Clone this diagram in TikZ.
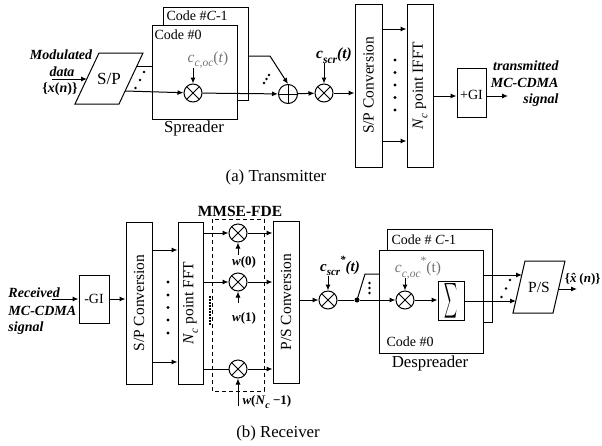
\documentclass[tikz,border=0pt]{standalone}
\usepackage{fontspec}
\usepackage{graphicx}
\setmainfont{Liberation Serif}
\usetikzlibrary{arrows.meta,calc}
\newcommand\fsz[1]{\fontsize{#1}{#1}\selectfont}
\newcommand\sbs[2][10]{\raisebox{-0.3em}{\fsz{#1}#2}}
\newcommand\sps[2][10]{\raisebox{0.5em}{\fsz{#1}#2}}
\begin{document}
\begin{tikzpicture}[x=1pt,y=-1pt,line width=1pt,>={Latex[length=6pt,width=5pt]},
  box/.style={draw,fill=white,inner sep=0pt},
  mult/.style={draw,circle,fill=white,minimum size=18pt,inner sep=0pt,
    path picture={\draw[line width=0.8pt] (path picture bounding box.north west) -- (path picture bounding box.south east)
      (path picture bounding box.north east) -- (path picture bounding box.south west);}},
  adder/.style={draw,circle,fill=white,minimum size=19pt,inner sep=0pt,
    path picture={\draw[line width=0.8pt] (path picture bounding box.north) -- (path picture bounding box.south)
      (path picture bounding box.east) -- (path picture bounding box.west);}},
  dotm/.style={circle,fill,inner sep=0pt,minimum size=2.8pt},
  bilbl/.style={font=\fsz{14}\bfseries\itshape,inner sep=0pt},
  codelbl/.style={font=\fsz{14},inner sep=0pt,anchor=west},
  vtext/.style={rotate=90,font=\fsz{15.5},inner sep=0pt},
  captxt/.style={font=\fsz{16.8},inner sep=0pt},
  graylbl/.style={font=\fsz{15.5},text=black!55,inner sep=0pt}]
\useasboundingbox (0,0) rectangle (602,445);

% ================= Transmitter =================
\node[bilbl] (mod1) at (61,55) {Modulated};
\node[bilbl] (mod2) at (62,72) {data};
\node[font=\fsz{14}\bfseries,inner sep=0pt] (mod3) at (60,89) {\{\textit{x}(\textit{n})\}};
\coordinate (in1) at (52,79);
\coordinate (spi) at (87,79);
\draw (75,104) -- (99,53) -- (143,53) -- (119,104) -- cycle;
\node[font=\fsz{17},inner sep=0pt] (sp) at (109,79) {S/P};
\draw[->] (in1) -- (spi);
\coordinate (spo1) at (137,66);
\coordinate (spo2) at (125,91);

\node[box,minimum width=85pt,minimum height=93pt] (cb1) at (205.5,53.5) {};
\node[box,minimum width=85pt,minimum height=94pt] (cf1) at (194.5,72) {};
\node[codelbl] (cl1) at (166,16) {Code \#\textit{C}-1};
\node[codelbl] (cl0) at (154,35) {Code \#0};
\node[mult] (m1) at (193,93) {};
\node[graylbl] (cc1) at (208,60) {\textit{c}\sbs[11.5]{\textit{c,oc}}(\textit{t})};
\coordinate (cc1a) at (193,68);
\draw[->] (cc1a) -- (m1);
\coordinate (cf1in) at (152,66);
\draw (spo1) -- (cf1in);
\draw[->] (spo2) -- (m1);
\foreach \p in {(144,72),(140,80),(135.5,88)} \node[dotm] at \p {};

\node[adder] (add) at (288,94) {};
\draw[->] (m1) -- (add);
\coordinate (cb1o) at (248,56);
\draw[->] (cb1o) -- (270,56) -- (add.north);
\foreach \p in {(269,75),(266.5,79),(264,83)} \node[dotm] at \p {};
\node[captxt] (spr) at (194,128) {Spreader};

\node[mult] (m2) at (324,93) {};
\draw[->] (add) -- (m2);
\node[font=\fsz{15.5}\bfseries\itshape,inner sep=0pt] (cscr) at (334,56) {\textit{c}\sbs[11.5]{\textit{scr}}(\textit{t})};
\coordinate (cscra) at (324,63);
\draw[->] (cscra) -- (m2);

\node[box,minimum width=27pt,minimum height=163pt] (spc) at (368.5,85.5) {};
\node[vtext] at (spc) {S/P Conversion};
\node[box,minimum width=26pt,minimum height=163pt] (ifft) at (420,85.5) {};
\node[vtext] at (ifft) {\textit{N}\sbs[11]{\textit{c}} point IFFT};
\draw[->] (m2) -- (m2 -| spc.west);
\draw[->] (spc.east |- 0,29) -- (ifft.west |- 0,29);
\draw[->] (spc.east |- 0,141) -- (ifft.west |- 0,141);
\foreach \yy in {60,72.5,85,97.5,110} \node[dotm,minimum size=3.2pt] at (395,\yy) {};

\node[box,minimum width=29pt,minimum height=49pt] (gi) at (471.5,92.5) {};
\node[font=\fsz{14},inner sep=0pt] at (471.5,95) {+GI};
\draw[->] (ifft.east |- 0,96) -- (gi.west |- 0,96);
\coordinate (txo) at (508,96);
\draw[->] (gi.east |- 0,96) -- (txo);
\node[bilbl,anchor=east] (t1) at (559,66) {transmitted};
\node[bilbl,anchor=east] (t2) at (559,83) {MC-CDMA};
\node[bilbl,anchor=east] (t3) at (559,100) {signal};
\node[captxt] (capa) at (276,177) {(a) Transmitter};

% ================= Receiver =================
\node[bilbl,anchor=west] (r1) at (8,293) {Received};
\node[bilbl,anchor=west] (r2) at (8,311) {MC-CDMA};
\node[bilbl,anchor=west] (r3) at (8,328) {signal};
\coordinate (rin) at (52,299);
\node[box,minimum width=30pt,minimum height=48pt] (gi2) at (94,299) {};
\node[font=\fsz{14},inner sep=0pt] at (94,299) {-GI};
\draw[->] (rin) -- (gi2);
\node[box,minimum width=26pt,minimum height=162pt] (spc2) at (139,303) {};
\node[vtext] at (spc2) {S/P Conversion};
\draw[->] (gi2) -- (gi2 -| spc2.west);
\node[box,minimum width=25pt,minimum height=162pt] (fft) at (190.5,303) {};
\node[vtext] at (fft) {\textit{N}\sbs[11]{\textit{c}} point FFT};
\draw[->] (spc2.east |- 0,250) -- (fft.west |- 0,250);
\draw[->] (spc2.east |- 0,362) -- (fft.west |- 0,362);
\foreach \yy in {282,295,307.5,320,333} \node[dotm,minimum size=3.2pt] at (168,\yy) {};

\draw[dash pattern=on 4pt off 3pt] (212,219) rectangle (264,391);
\node[font=\fsz{15.5}\bfseries,inner sep=0pt] (mmse) at (240,211) {MMSE-FDE};
\draw[line width=2pt,dash pattern=on 1.5pt off 1.5pt] (210,296) -- (210,326);

\node[mult] (w1) at (238,233) {};
\node[mult] (w2) at (238,282) {};
\node[mult] (w3) at (238,369) {};
\node[box,minimum width=26pt,minimum height=162pt] (ps) at (286,302) {};
\node[vtext] at (ps) {P/S Conversion};
\draw[->] (fft.east |- w1) -- (w1);
\draw[->] (fft.east |- w2) -- (w2);
\draw (fft.east |- w3) -- (w3);
\draw[->] (w1) -- (w1 -| ps.west);
\draw[->] (w2) -- (w2 -| ps.west);
\draw[->] (w3) -- (w3 -| ps.west);
\coordinate (wa1) at (238,255);
\coordinate (wa2) at (238,303);
\coordinate (wa3) at (238,406);
\draw[->] (wa1) -- (w1);
\draw[->] (wa2) -- (w2);
\draw[->] (wa3) -- (w3);
\node[font=\fsz{13}\bfseries,inner sep=0pt] (wl1) at (244,262) {\textit{w}(0)};
\node[font=\fsz{13}\bfseries,inner sep=0pt] (wl2) at (244,318) {\textit{w}(1)};
\node[font=\fsz{13}\bfseries,inner sep=0pt,anchor=west] (wl3) at (242,402) {\textit{w}(\textit{N}\sbs[10]{\textit{c}} −1)};

\node[mult] (rm1) at (328,300) {};
\draw[->] (ps.east |- rm1) -- (rm1);
\node[font=\fsz{15}\bfseries\itshape,inner sep=0pt] (cscr2) at (340,266) {\textit{c}\sbs[11]{\textit{scr}}\sps[11]{*}(\textit{t})};
\coordinate (cscr2a) at (328,276);
\draw[->] (cscr2a) -- (rm1);
\node[dotm,minimum size=5pt] (jn) at (357,300) {};
\draw (rm1) -- (jn);

\node[box,minimum width=105pt,minimum height=93pt] (cb2) at (439.5,275.5) {};
\node[box,minimum width=104pt,minimum height=103pt] (cf2) at (431,301.5) {};
\node[codelbl] (cl2) at (391,240) {Code \# \textit{C}-1};
\node[codelbl] (cl3) at (386,342) {Code \#0};
\coordinate (cf2in) at (379,274);
\draw (jn.center) -- (365,274) -- (cf2in);
\foreach \yy in {283,288,293} \node[dotm] at (369.5,\yy) {};
\node[mult] (rm2) at (405,300) {};
\draw[->] (jn) -- (rm2);
\node[graylbl] (cc2) at (418,268) {\textit{c}\sbs[11.5]{\textit{c,oc}}\sps[11.5]{*}(t)};
\coordinate (cc2a) at (405,278);
\draw[->] (cc2a) -- (rm2);
\node[box,minimum width=26pt,minimum height=34pt] (sig) at (451,301) {\resizebox{13pt}{26pt}{$\displaystyle\sum$}};
\draw[->] (rm2) -- (rm2 -| sig.west);
\node[captxt] (dspr) at (430,363) {Despreader};

\draw (513,313) -- (525,261) -- (565,261) -- (553,313) -- cycle;
\node[font=\fsz{15.5},inner sep=0pt] (ps2) at (539,287) {P/S};
\coordinate (ps2t) at (522,275);
\coordinate (ps2b) at (516,301);
\coordinate (ps2o) at (558.5,289);
\coordinate (cf2o) at (483,275);
\draw[->] (cf2o) -- (ps2t);
\draw[->] (sig.east |- ps2b) -- (ps2b);
\foreach \p in {(510,280),(506,288.5),(501.5,297)} \node[dotm] at \p {};
\coordinate (xo) at (577,289);
\draw[->] (ps2o) -- (xo);
\node[font=\fsz{13}\bfseries,inner sep=0pt,anchor=east] (xh) at (601,279) {\{\textit{\^{x}}(\textit{n})\}};
\node[captxt] (capb) at (278,433) {(b) Receiver};
\end{tikzpicture}
\end{document}
